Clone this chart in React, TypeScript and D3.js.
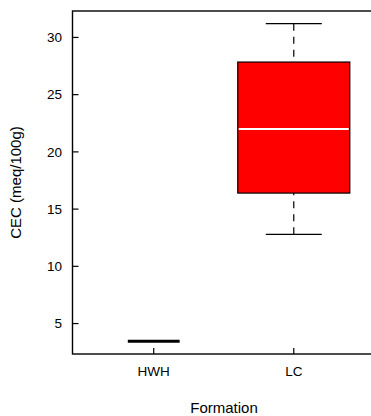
import { useEffect, useRef } from "react";
import * as d3 from "d3";

const categories = ["HWH", "LC"];
const whiskerLow = [3.45, 12.8];
const q1 = [3.45, 16.4];
const medians = [3.45, 22.0];
const q3 = [3.45, 27.85];
const whiskerHigh = [3.45, 31.2];
const yTicks = [5, 10, 15, 20, 25, 30];

const W = 371;
const H = 416;

export default function App() {
  const ref = useRef<SVGSVGElement | null>(null);

  useEffect(() => {
    if (!ref.current) return;
    const svg = d3.select(ref.current);
    svg.selectAll("*").remove();

    const font = "'Liberation Sans', Arial, sans-serif";
    const m = { t: 11, l: 72.5, b: 354 };

    const lo = d3.min(whiskerLow) as number;
    const hi = d3.max(whiskerHigh) as number;
    const pad = (hi - lo) * 0.04;
    const y = d3.scaleLinear().domain([lo - pad, hi + pad]).range([m.b, m.t]);
    const n = categories.length;
    const x = d3
      .scaleLinear()
      .domain([0.5 - (n * 0.04), n + 0.5 + n * 0.04])
      .range([m.l, 375]);
    const unit = x(1) - x(0);

    const g = svg.append("g");

    categories.forEach((c, i) => {
      const cx = x(i + 1);
      if (q3[i] - q1[i] <= 0) {
        // collapsed box: only a thick line
        const hw = unit * 0.185;
        g.append("line")
          .attr("x1", cx - hw).attr("x2", cx + hw)
          .attr("y1", y(medians[i])).attr("y2", y(medians[i]))
          .attr("stroke", "#000").attr("stroke-width", 3);
        return;
      }
      const bw = unit * 0.8;
      const sw = bw / 2;
      // whiskers
      [[whiskerLow[i], q1[i]], [whiskerHigh[i], q3[i]]].forEach(([a, b]) => {
        g.append("line")
          .attr("x1", cx).attr("x2", cx)
          .attr("y1", y(a)).attr("y2", y(b))
          .attr("stroke", "#000").attr("stroke-width", 1.2)
          .attr("stroke-dasharray", "7,6");
        g.append("line")
          .attr("x1", cx - sw / 2).attr("x2", cx + sw / 2)
          .attr("y1", y(a)).attr("y2", y(a))
          .attr("stroke", "#000").attr("stroke-width", 1.2);
      });
      g.append("rect")
        .attr("x", cx - bw / 2).attr("width", bw)
        .attr("y", y(q3[i])).attr("height", y(q1[i]) - y(q3[i]))
        .attr("fill", "#ff0000").attr("stroke", "#000").attr("stroke-width", 1.2);
      g.append("line")
        .attr("x1", cx - bw / 2 + 1).attr("x2", cx + bw / 2 - 1)
        .attr("y1", y(medians[i])).attr("y2", y(medians[i]))
        .attr("stroke", "#fff").attr("stroke-width", 1.8);
    });

    // frame
    g.append("rect")
      .attr("x", m.l).attr("y", m.t)
      .attr("width", 375 - m.l).attr("height", m.b - m.t)
      .attr("fill", "none").attr("stroke", "#000").attr("stroke-width", 1.4);

    // y ticks (inward)
    yTicks.forEach((t) => {
      g.append("line")
        .attr("x1", m.l).attr("x2", m.l + 6)
        .attr("y1", y(t)).attr("y2", y(t))
        .attr("stroke", "#000").attr("stroke-width", 1.2);
      g.append("text")
        .attr("x", 62).attr("y", y(t))
        .attr("dy", "0.35em")
        .attr("text-anchor", "end")
        .attr("font-family", font).attr("font-size", 13.5)
        .attr("fill", "#000")
        .text(t);
    });

    // x ticks (inward)
    categories.forEach((c, i) => {
      g.append("line")
        .attr("x1", x(i + 1)).attr("x2", x(i + 1))
        .attr("y1", m.b).attr("y2", m.b - 6)
        .attr("stroke", "#000").attr("stroke-width", 1.2);
      g.append("text")
        .attr("x", x(i + 1)).attr("y", 371)
        .attr("dy", "0.35em")
        .attr("text-anchor", "middle")
        .attr("font-family", font).attr("font-size", 13.5)
        .attr("fill", "#000")
        .text(c);
    });

    g.append("text")
      .attr("x", 224).attr("y", 408)
      .attr("dy", "0.35em")
      .attr("text-anchor", "middle")
      .attr("font-family", font).attr("font-size", 15)
      .attr("fill", "#000")
      .text("Formation");

    g.append("text")
      .attr("transform", `translate(16,${(m.t + m.b) / 2}) rotate(-90)`)
      .attr("dy", "0.35em")
      .attr("text-anchor", "middle")
      .attr("font-family", font).attr("font-size", 15)
      .attr("fill", "#000")
      .text("CEC (meq/100g)");
  }, []);

  return (
    <svg
      ref={ref}
      width={W}
      height={H}
      style={{ position: "absolute", left: 0, top: 0, background: "#fff" }}
    />
  );
}
